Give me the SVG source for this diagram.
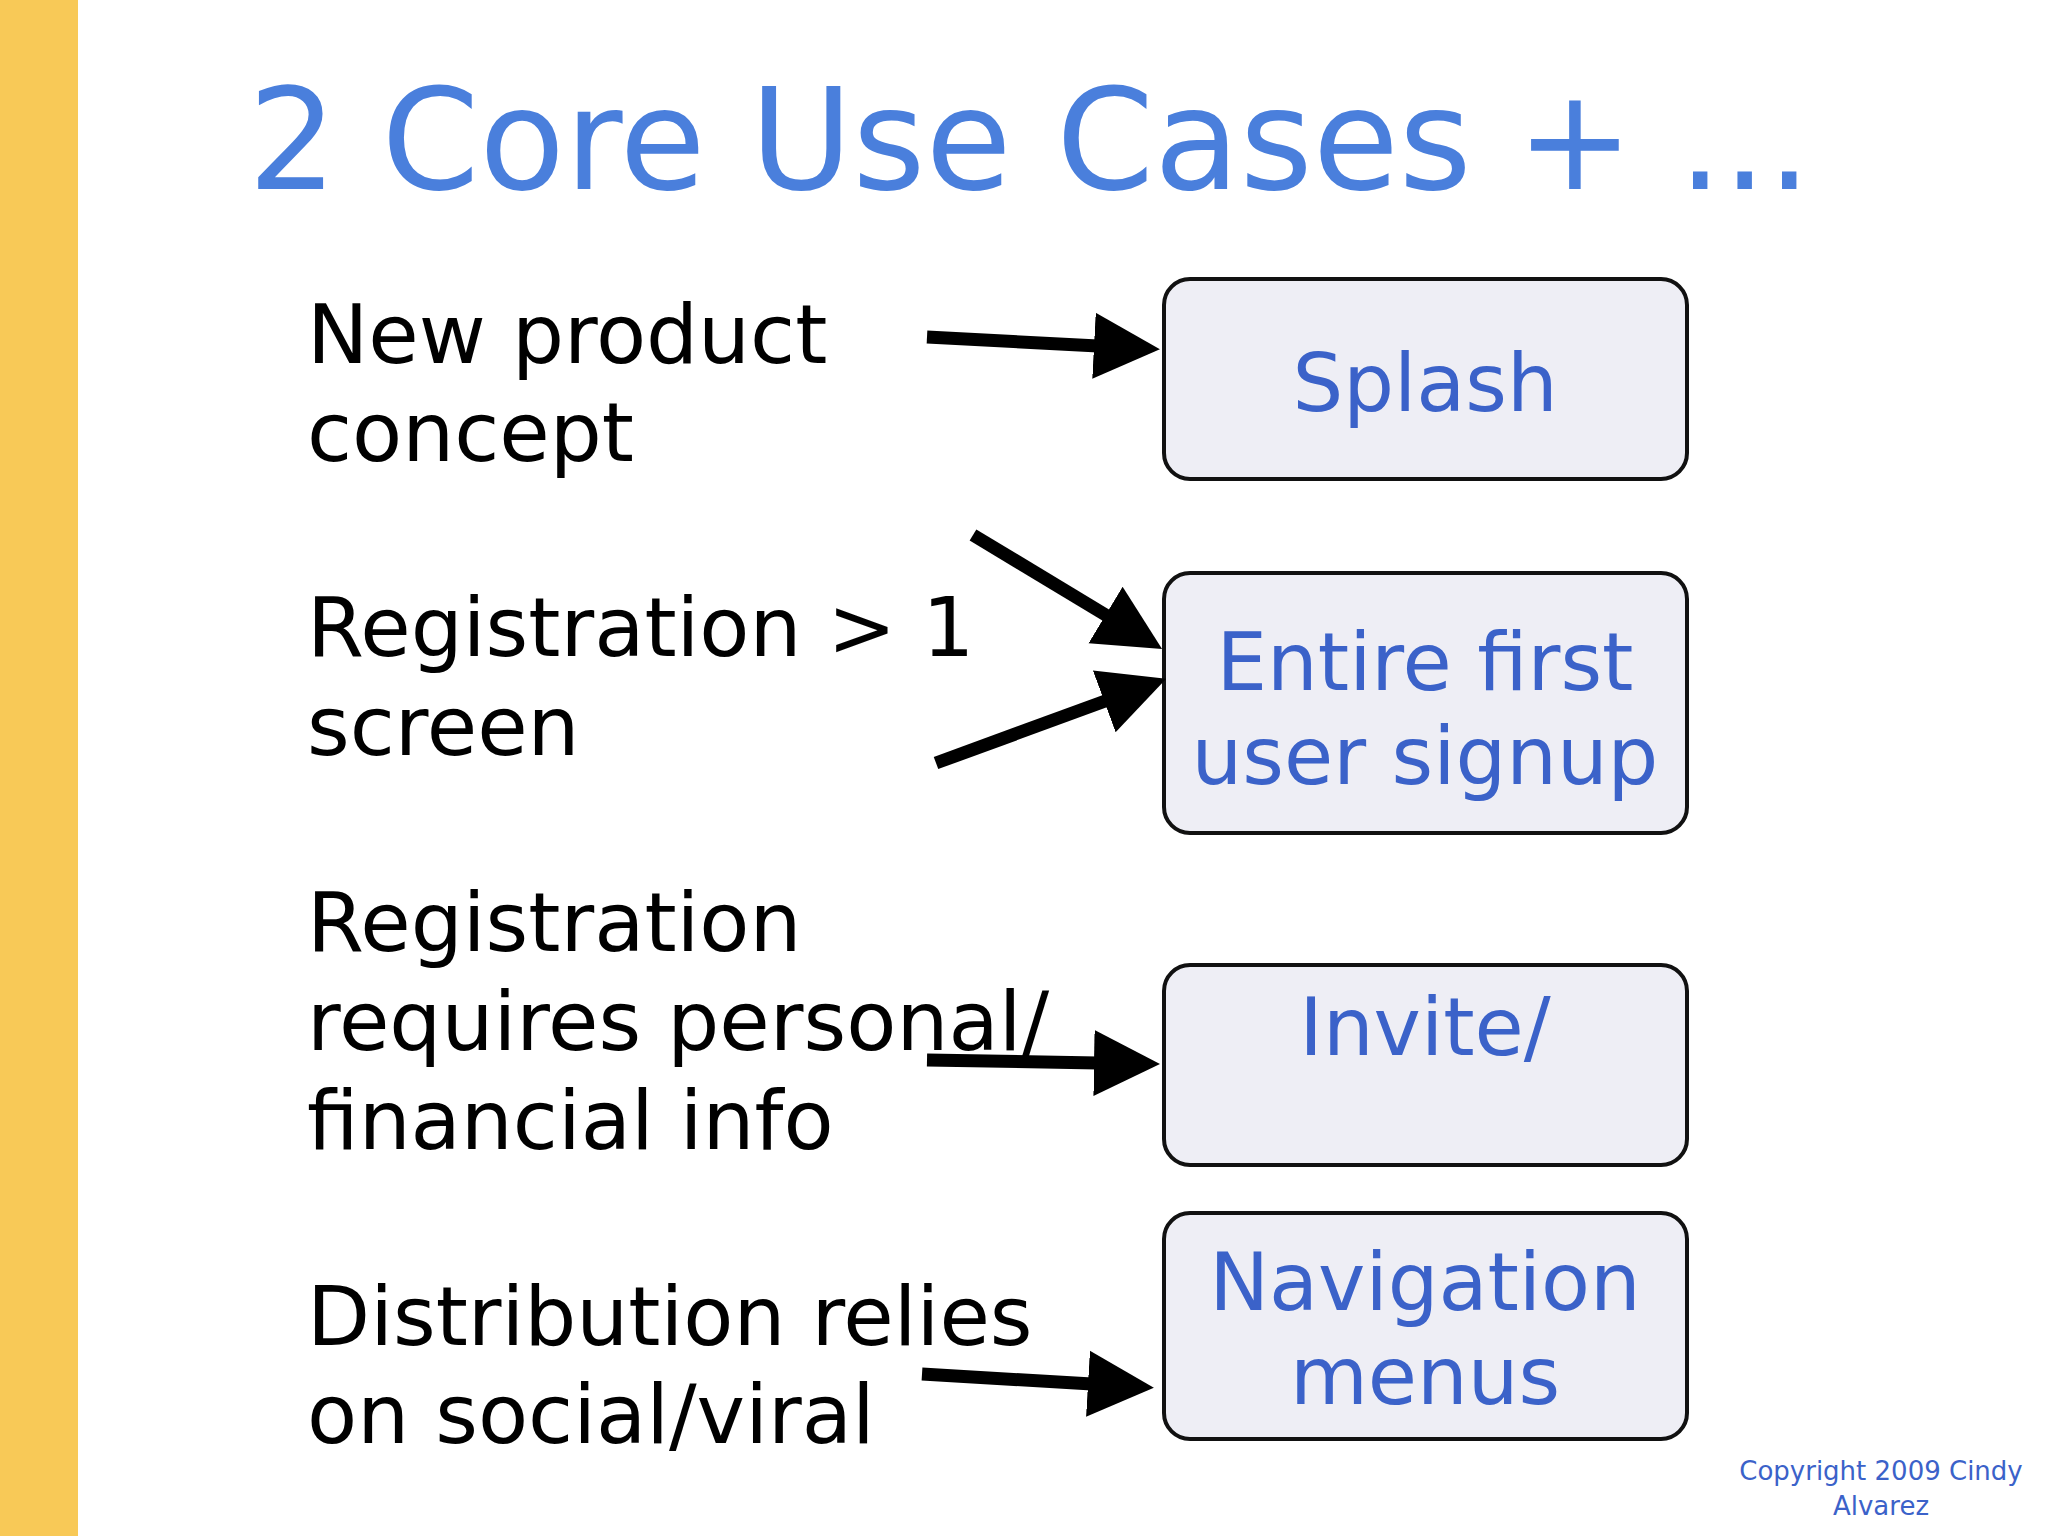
<svg xmlns="http://www.w3.org/2000/svg" width="2048" height="1536" viewBox="0 0 2048 1536">
<style>
.box{fill:#eeeef5;stroke:#111;stroke-width:4}
.bt{font-family:"DejaVu Sans",sans-serif;font-size:80px;fill:#3b62c9;text-anchor:middle}
.lt{font-family:"DejaVu Sans",sans-serif;font-size:82px;fill:#000}
.ar{stroke:#000;stroke-width:13;fill:none;marker-end:url(#h)}
</style>
<defs>
<marker id="h" markerUnits="userSpaceOnUse" markerWidth="70" markerHeight="70" refX="4" refY="33" orient="auto" viewBox="0 0 70 66">
<path d="M0,0 L66,33 L0,66 Z" fill="#000"/>
</marker>
</defs>
<rect width="2048" height="1536" fill="#fff"/>
<rect x="0" y="0" width="78" height="1536" fill="#f8c957"/>
<text x="248" y="189" font-family="DejaVu Sans,sans-serif" font-size="140" fill="#4a7fdc">2 Core Use Cases + ...</text>
<g id="labels">
<text class="lt" x="307" y="363">New product</text>
<text class="lt" x="307" y="461">concept</text>
<text class="lt" x="307" y="656">Registration &gt; 1</text>
<text class="lt" x="307" y="755">screen</text>
<text class="lt" x="307" y="951">Registration</text>
<text class="lt" x="307" y="1050">requires personal/</text>
<text class="lt" x="307" y="1149">financial info</text>
<text class="lt" x="307" y="1345">Distribution relies</text>
<text class="lt" x="307" y="1443">on social/viral</text>
</g>
<g id="splash"><rect class="box" x="1164" y="279" width="523" height="200" rx="26"/><text class="bt" x="1425" y="411">Splash</text></g>
<g id="signup"><rect class="box" x="1164" y="573" width="523" height="260" rx="26"/><text class="bt" x="1425" y="690">Entire first</text><text class="bt" x="1425" y="784">user signup</text></g>
<g id="invite"><rect class="box" x="1164" y="965" width="523" height="200" rx="26"/><text class="bt" x="1425" y="1055">Invite/</text></g>
<g id="nav"><rect class="box" x="1164" y="1213" width="523" height="226" rx="26"/><text class="bt" x="1425" y="1310">Navigation</text><text class="bt" x="1425" y="1404">menus</text></g>
<g id="connectors">
<line class="ar" x1="927" y1="337" x2="1098" y2="346"/>
<line class="ar" x1="973" y1="535" x2="1109" y2="617"/>
<line class="ar" x1="936" y1="763" x2="1108" y2="700"/>
<line class="ar" x1="927" y1="1060" x2="1098" y2="1063"/>
<line class="ar" x1="922" y1="1374" x2="1092" y2="1384"/>
</g>
<g font-family="DejaVu Sans,sans-serif" font-size="26" fill="#3b62c9" text-anchor="middle">
<text x="1881" y="1480">Copyright 2009 Cindy</text>
<text x="1881" y="1515">Alvarez</text>
</g>
</svg>
